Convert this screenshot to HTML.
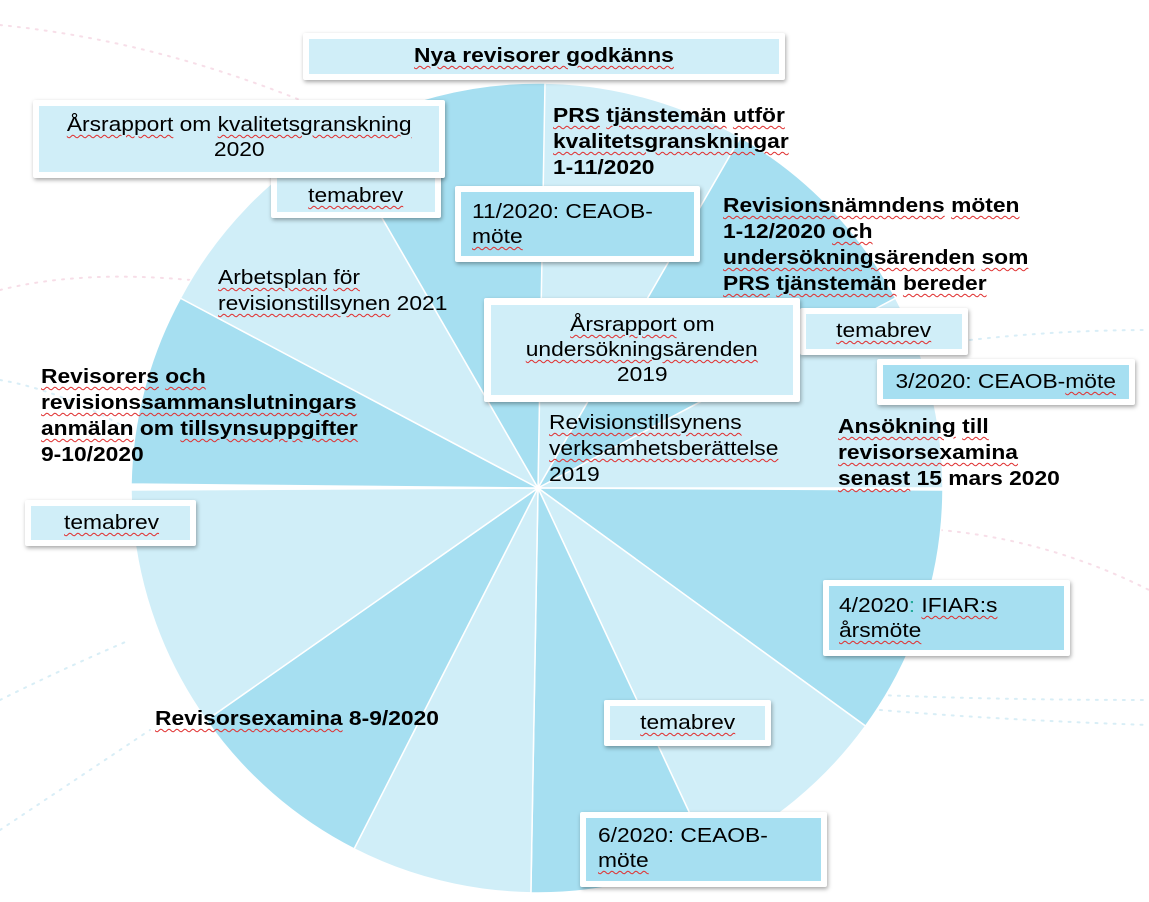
<!DOCTYPE html>
<html><head><meta charset="utf-8"><style>
body{margin:0;width:1149px;height:902px;background:#fff;position:relative;overflow:hidden;font-family:"Liberation Sans",Arial,sans-serif;color:#000}
svg{position:absolute;left:0;top:0}
.b{position:absolute;background:#fff;box-shadow:1px 2px 4px rgba(0,0,0,.35);border-radius:2px}
.b>div{position:absolute;left:6px;top:6px;right:6px;bottom:6px;font-size:20px;line-height:25px;box-sizing:border-box}
.l{background:#d0eef8}.d{background:#a6dff1}
.t{position:absolute;font-size:20px;line-height:26px}
.bo{font-weight:bold}
.s{text-decoration:underline wavy #e03030;text-decoration-thickness:1px;text-underline-offset:3px}
.x{display:inline-block;transform:scaleX(1.14);transform-origin:left top;white-space:nowrap}
.c{display:inline-block;transform:scaleX(1.14);transform-origin:center top;white-space:nowrap}
</style></head><body>
<svg width="1149" height="902">
<g fill="none" stroke-dasharray="2 7" stroke-linecap="round" stroke-width="2" opacity="0.6">
<path d="M0 25 Q150 40 300 100" stroke="#f2c8d8"/>
<path d="M0 290 Q80 270 190 280" stroke="#f2c8d8"/>
<path d="M0 380 Q60 390 130 430" stroke="#bfe3f1"/>
<path d="M0 700 Q60 670 130 640" stroke="#bfe3f1"/>
<path d="M0 830 Q60 790 150 730" stroke="#bfe3f1"/>
<path d="M970 340 Q1060 330 1149 330" stroke="#bfe3f1"/>
<path d="M940 530 Q1050 540 1149 590" stroke="#f2c8d8"/>
<path d="M880 695 Q1000 700 1149 700" stroke="#bfe3f1"/>
<path d="M880 710 Q1000 720 1149 725" stroke="#bfe3f1"/>
</g>
<g stroke="#fff" stroke-width="1.5">
<path d="M538 488 L538 83 A405 405 0 0 1 740.5 137.3Z" fill="#d0eef8"/>
<path d="M538 488 L740.5 137.3 A405 405 0 0 1 895.6 298.1Z" fill="#a6dff1"/>
<path d="M538 488 L895.6 298.1 A405 405 0 0 1 943 488Z" fill="#d0eef8"/>
<path d="M538 488 L943 490 A405 405 0 0 1 865.6 726.1Z" fill="#a6dff1"/>
<path d="M538 488 L865.6 726.1 A405 405 0 0 1 709.2 855.1Z" fill="#d0eef8"/>
<path d="M538 488 L709.2 855.1 A405 405 0 0 1 530.9 892.9Z" fill="#a6dff1"/>
<path d="M538 488 L530.9 892.9 A405 405 0 0 1 354.1 848.9Z" fill="#d0eef8"/>
<path d="M538 488 L354.1 848.9 A405 405 0 0 1 206.3 720.3Z" fill="#a6dff1"/>
<path d="M538 488 L206.3 720.3 A405 405 0 0 1 131 490Z" fill="#d0eef8"/>
<path d="M538 488 L131 484 A405 405 0 0 1 180.4 298.1Z" fill="#a6dff1"/>
<path d="M538 488 L180.4 298.1 A405 405 0 0 1 335.5 137.3Z" fill="#d0eef8"/>
<path d="M538 488 L335.5 137.3 A405 405 0 0 1 545 83Z" fill="#a6dff1"/>
</g>
</svg>

<div class="b" style="left:303px;top:33px;width:482px;height:47px"><div class="l bo" style="text-align:center;padding-top:5px"><span class="c"><span class="s">Nya revisorer godkänns</span></span></div></div>
<div class="b" style="left:271px;top:172px;width:170px;height:46px"><div class="l" style="text-align:center;padding-top:6px"><span class="c"><span class="s">temabrev</span></span></div></div>
<div class="b" style="left:33px;top:100px;width:412px;height:78px"><div class="l" style="text-align:center;padding-top:7px"><span class="c"><span class="s">Årsrapport</span> om <span class="s">kvalitetsgranskning</span></span><br><span class="c">2020</span></div></div>
<div class="b" style="left:455px;top:186px;width:245px;height:76px"><div class="d" style="padding:8px 0 0 11px"><span class="x">11/2020: CEAOB-</span><br><span class="x"><span class="s">möte</span></span></div></div>
<div class="b" style="left:800px;top:308px;width:168px;height:47px"><div class="l" style="text-align:center;padding-top:5px"><span class="c"><span class="s">temabrev</span></span></div></div>
<div class="b" style="left:484px;top:298px;width:316px;height:104px"><div class="l" style="text-align:center;padding-top:8px;left:7px;top:7px;right:7px;bottom:7px"><span class="c"><span class="s">Årsrapport</span> om</span><br><span class="c"><span class="s">undersökningsärenden</span></span><br><span class="c">2019</span></div></div>
<div class="b" style="left:877px;top:359px;width:258px;height:46px"><div class="d" style="text-align:center;padding-top:5px"><span class="c">3/2020: CEAOB-<span class="s">möte</span></span></div></div>
<div class="b" style="left:25px;top:500px;width:171px;height:46px"><div class="l" style="padding:5px 0 0 33px"><span class="x"><span class="s">temabrev</span></span></div></div>
<div class="b" style="left:823px;top:580px;width:247px;height:76px"><div class="d" style="padding:8px 0 0 10px"><span class="x">4/2020<span style="color:#2a9">:</span> <span class="s">IFIAR:s</span></span><br><span class="x"><span class="s">årsmöte</span></span></div></div>
<div class="b" style="left:604px;top:700px;width:167px;height:46px"><div class="l" style="text-align:center;padding-top:5px"><span class="c"><span class="s">temabrev</span></span></div></div>
<div class="b" style="left:580px;top:812px;width:247px;height:75px"><div class="d" style="padding:6px 0 0 12px"><span class="x">6/2020: CEAOB-</span><br><span class="x"><span class="s">möte</span></span></div></div>

<div class="t bo" style="left:553px;top:103px"><span class="x"><span class="s">PRS</span> <span class="s">tjänstemän</span> <span class="s">utför</span></span><br><span class="x"><span class="s">kvalitetsgranskningar</span></span><br><span class="x">1-11/2020</span></div>
<div class="t bo" style="left:723px;top:193px"><span class="x"><span class="s">Revisionsnämndens</span> <span class="s">möten</span></span><br><span class="x">1-12/2020 <span class="s">och</span></span><br><span class="x"><span class="s">undersökningsärenden</span> <span class="s">som</span></span><br><span class="x"><span class="s">PRS</span> <span class="s">tjänstemän</span> <span class="s">bereder</span></span></div>
<div class="t" style="left:218px;top:265px"><span class="x"><span class="s">Arbetsplan</span> <span class="s">för</span></span><br><span class="x"><span class="s">revisionstillsynen</span> 2021</span></div>
<div class="t bo" style="left:41px;top:364px"><span class="x"><span class="s">Revisorers</span> <span class="s">och</span></span><br><span class="x"><span class="s">revisionssammanslutningars</span></span><br><span class="x"><span class="s">anmälan</span> om <span class="s">tillsynsuppgifter</span></span><br><span class="x">9-10/2020</span></div>
<div class="t" style="left:549px;top:410px"><span class="x"><span class="s">Revisionstillsynens</span></span><br><span class="x"><span class="s">verksamhetsberättelse</span></span><br><span class="x">2019</span></div>
<div class="t bo" style="left:838px;top:414px"><span class="x"><span class="s">Ansökning</span> <span class="s">till</span></span><br><span class="x"><span class="s">revisorsexamina</span></span><br><span class="x"><span class="s">senast</span> 15 mars 2020</span></div>
<div class="t bo" style="left:155px;top:706px"><span class="x"><span class="s">Revisorsexamina</span> 8-9/2020</span></div>
</body></html>
